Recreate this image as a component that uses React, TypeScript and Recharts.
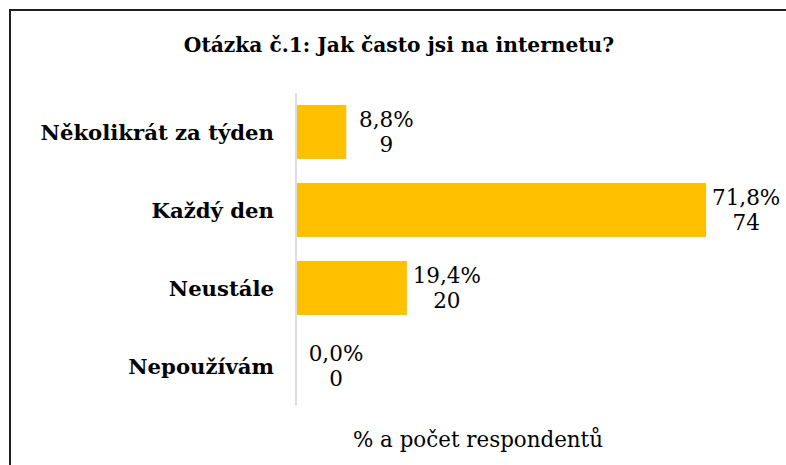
import { Bar, BarChart, LabelList, Rectangle, XAxis, YAxis } from "recharts";

const categories = ["Několikrát za týden", "Každý den", "Neustále", "Nepoužívám"];
const percents = [8.8, 71.8, 19.4, 0.0];
const counts = [9, 74, 20, 0];

const title = "Otázka č.1: Jak často jsi na internetu?";
const axisTitle = "% a počet respondentů";

const data = categories.map((name, i) => ({ name, pct: percents[i], count: counts[i] }));

const SERIF = "DejaVu Serif";

function fmtPct(v: number) {
  return v.toFixed(1).replace(".", ",") + "%";
}

function ValueLabel(props: any) {
  const { x, y, height, index } = props;
  const w = percents[index] === 0 ? 0 : Number(props.width);
  const cx = Number(x) + w + 40;
  const cy = Number(y) + Number(height) / 2;
  return (
    <g>
      <text x={cx} y={cy - 5} style={{ fontFamily: SERIF }} fontSize={21.5} fill="#000" textAnchor="middle">
        {fmtPct(percents[index])}
      </text>
      <text x={cx} y={cy + 20} style={{ fontFamily: SERIF }} fontSize={21.5} fill="#000" textAnchor="middle">
        {counts[index]}
      </text>
    </g>
  );
}

// zero-valued bar gets no visible rect, but keeps its label
function BarShape(props: any) {
  if (props.payload?.pct === 0) return <g />;
  return <Rectangle {...props} />;
}

export default function App() {
  return (
    <div style={{ position: "fixed", left: 0, top: 0, width: 786, height: 465, background: "#fff" }}>
      <div
        style={{
          position: "absolute",
          left: 9,
          top: 9,
          width: 800,
          height: 470,
          borderLeft: "2px solid #1f1f1f",
          borderTop: "2px solid #1f1f1f",
        }}
      />
      <div style={{ position: "absolute", left: 0, top: 0 }}>
        <BarChart
          width={786}
          height={465}
          data={data}
          layout="vertical"
          margin={{ top: 93, right: 33, bottom: 60, left: 0 }}
        >
          <XAxis type="number" domain={[0, 80]} hide />
          <YAxis
            type="category"
            dataKey="name"
            width={296}
            axisLine={{ stroke: "#dedede", strokeWidth: 2 }}
            tickLine={false}
            tickSize={0}
            tickMargin={22}
            tick={{ style: { fontFamily: SERIF }, fontSize: 21.2, fontWeight: 700, fill: "#000" }}
          />
          <Bar
            dataKey="pct"
            fill="#FFC000"
            barSize={54}
            minPointSize={1}
            shape={BarShape}
            isAnimationActive={false}
          >
            <LabelList dataKey="pct" content={ValueLabel} />
          </Bar>
        </BarChart>
      </div>
      <svg width={786} height={465} style={{ position: "absolute", left: 0, top: 0, pointerEvents: "none" }}>
        <text x={399} y={52} textAnchor="middle" style={{ fontFamily: SERIF }} fontSize={20.2} fontWeight={700} fill="#000">
          {title}
        </text>
        <text x={478} y={447} textAnchor="middle" style={{ fontFamily: SERIF }} fontSize={21.4} fill="#000">
          {axisTitle}
        </text>
      </svg>
    </div>
  );
}
